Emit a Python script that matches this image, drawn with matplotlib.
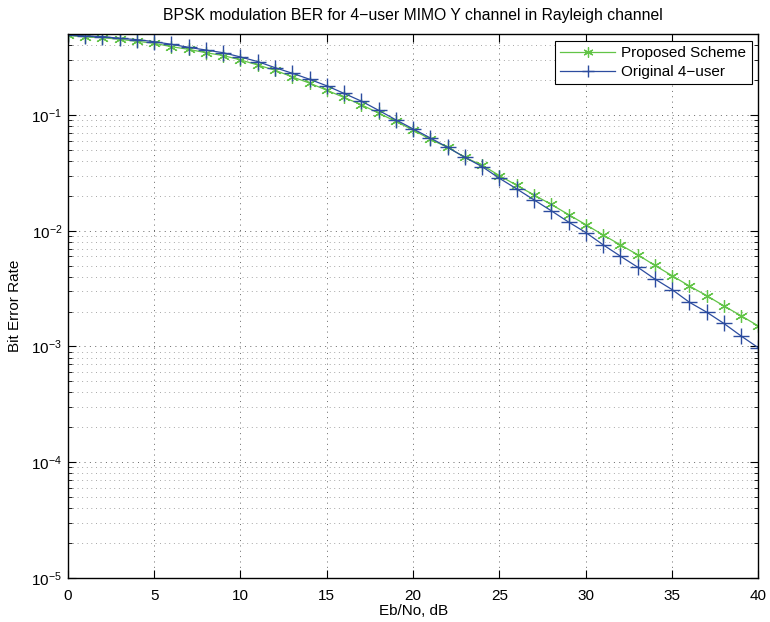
import matplotlib
matplotlib.use("Agg")
import matplotlib.pyplot as plt
from matplotlib.ticker import LogLocator, NullFormatter, FixedLocator

plt.rcParams['font.family'] = ['Liberation Sans', 'DejaVu Sans']
plt.rcParams['mathtext.fontset'] = 'custom'
plt.rcParams['mathtext.rm'] = 'Liberation Sans'
plt.rcParams['mathtext.it'] = 'Liberation Sans'
plt.rcParams['mathtext.default'] = 'regular'

ebno_db = list(range(0, 41))

proposed_ber = [0.490, 0.473, 0.467, 0.452, 0.434, 0.418, 0.390, 0.370, 0.346, 0.327,
                0.300, 0.271, 0.244, 0.214, 0.189, 0.164, 0.142, 0.123, 0.104, 0.0881,
                0.0743, 0.0617, 0.0526, 0.0431, 0.0368, 0.0300, 0.0247, 0.0204, 0.0169, 0.0138,
                0.0113, 0.00920, 0.00757, 0.00621, 0.00502, 0.00409, 0.00333, 0.00275, 0.00224, 0.00184,
                0.00150]

original_ber = [0.490, 0.483, 0.477, 0.461, 0.449, 0.431, 0.409, 0.385, 0.365, 0.346,
                0.318, 0.290, 0.257, 0.230, 0.204, 0.179, 0.154, 0.132, 0.110, 0.091,
                0.0759, 0.0634, 0.0526, 0.0431, 0.0358, 0.0284, 0.0230, 0.0185, 0.0149, 0.0119,
                0.00966, 0.00757, 0.00604, 0.00485, 0.00383, 0.00310, 0.00241, 0.00198, 0.00158, 0.00123,
                0.000973]

series_labels = ["Proposed Scheme", "Original 4\u2212user"]
title_text = "BPSK modulation BER for 4\u2212user MIMO Y channel in Rayleigh channel"
x_label = "Eb/No, dB"
y_label = "Bit Error Rate"
x_ticks = [0, 5, 10, 15, 20, 25, 30, 35, 40]

fig = plt.figure(figsize=(7.70, 6.22), dpi=100)
ax = fig.add_axes([0.088, 0.071, 0.897, 0.874])

green = '#62c447'
blue = '#2c4c9f'

asterisk = (6, 2, 0)
ax.semilogy(ebno_db, proposed_ber, color=green, marker=asterisk, markersize=9,
            linewidth=0.9, markeredgewidth=0.9, label=series_labels[0])
ax.semilogy(ebno_db, original_ber, color=blue, marker='+', markersize=11,
            linewidth=0.9, markeredgewidth=1.0, label=series_labels[1])

ax.set_xlim(0, 40)
ax.set_ylim(1e-5, 0.5)
ax.xaxis.set_major_locator(FixedLocator(x_ticks))
ax.yaxis.set_major_locator(LogLocator(base=10, numticks=10))
ax.yaxis.set_minor_locator(LogLocator(base=10, subs=range(2, 10), numticks=20))
ax.yaxis.set_minor_formatter(NullFormatter())

ax.grid(True, which='major', axis='both', linestyle=(0, (1, 4.5)), color='#666666', linewidth=0.7)
ax.grid(True, which='minor', axis='y', linestyle=(0, (1, 4.5)), color='#888888', linewidth=0.6)

ax.tick_params(which='both', direction='in', top=True, right=True, labelsize=11)
ax.tick_params(which='major', length=6, width=0.8)
ax.tick_params(which='minor', length=3, width=0.6)
ax.tick_params(axis='x', which='major', pad=8)
ax.tick_params(axis='y', which='major', pad=4)
for s in ax.spines.values():
    s.set_linewidth(1.0)

ax.set_title(title_text, fontsize=11.3, pad=10)
ax.set_xlabel(x_label, fontsize=11, labelpad=1)
ax.set_ylabel(y_label, fontsize=11, labelpad=7)

leg = ax.legend(loc='upper right', fontsize=11, fancybox=False, framealpha=1,
                edgecolor='black', borderpad=0.35, handlelength=3.6, labelspacing=0.3,
                borderaxespad=0.45, handletextpad=0.4, markerscale=0.8)
leg.get_frame().set_linewidth(0.8)

fig.savefig("out.png", dpi=100)
